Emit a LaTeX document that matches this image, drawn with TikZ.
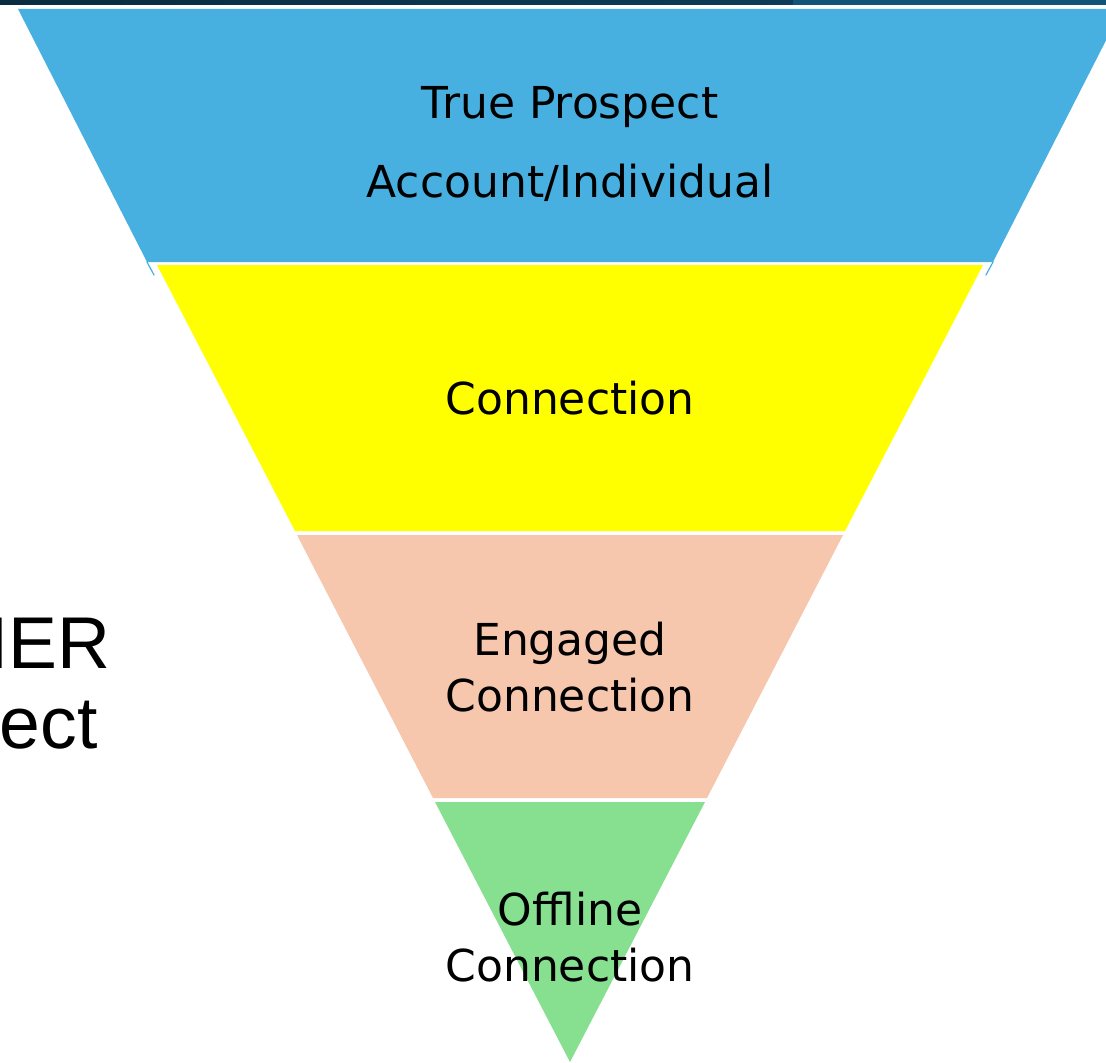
\documentclass[tikz,border=0pt]{standalone}
\usepackage{fontspec}
\setmainfont{DejaVu Sans}
\newfontfamily\sidefont{Liberation Sans}
\definecolor{barleft}{HTML}{092C40}
\definecolor{barmid}{HTML}{0C3C58}
\definecolor{barright}{HTML}{11547A}
\definecolor{prospectblue}{HTML}{47B0E0}
\definecolor{connyellow}{HTML}{FFFF00}
\definecolor{engagedpink}{HTML}{F6C6AD}
\definecolor{offlinegreen}{HTML}{86E08F}
\tikzset{
  bandlabel/.style={anchor=base, inner sep=0pt, font=\fontsize{33}{40}\selectfont},
  sidelabel/.style={anchor=base east, inner sep=0pt, font=\sidefont\fontsize{55}{62}\selectfont}
}
\begin{document}
\begin{tikzpicture}[line cap=round, line join=round, x=0.75pt, y=-0.75pt]

                \useasboundingbox (0,0) rectangle (1106,1063);
                \fill[white] (0,0) rectangle (1106,1063);

                % top bar
                \shade[left color=barleft, right color=barmid] (0,0) rectangle (793,5);
                \fill[barright] (793,0) rectangle (1106,5);

                % funnel bands
                \fill[prospectblue] (18,9) -- (1122,9) -- (993,262) -- (147,262) -- cycle;
                \draw[prospectblue, line width=0.9pt] (147,262) -- (154,275);
                \draw[prospectblue, line width=0.9pt] (993,262) -- (986,275);
                \fill[connyellow] (157,265) -- (983,265) -- (845,531) -- (295,531) -- cycle;
                \fill[engagedpink] (297,535) -- (843,535) -- (707,798) -- (433,798) -- cycle;
                \fill[offlinegreen] (435,802) -- (705,802) -- (570,1062) -- cycle;

                % band texts
                \node[bandlabel] (prospect) at (570,118) {True Prospect};
                \node[bandlabel] (account) at (570,197) {Account/Individual};
                \node[bandlabel] (connection) at (570,414) {Connection};
                \node[bandlabel] (engaged) at (570,655) {Engaged};
                \node[bandlabel] (engagedconn) at (570,711) {Connection};
                \node[bandlabel] (offline) at (570,925) {Offline};
                \node[bandlabel] (offlineconn) at (570,981) {Connection};

                % clipped side text
                \node[sidelabel] (sidetop) at (111,668) {IER};
                \node[sidelabel] (sidebottom) at (98,748) {ect};

            \end{tikzpicture}
\end{document}
